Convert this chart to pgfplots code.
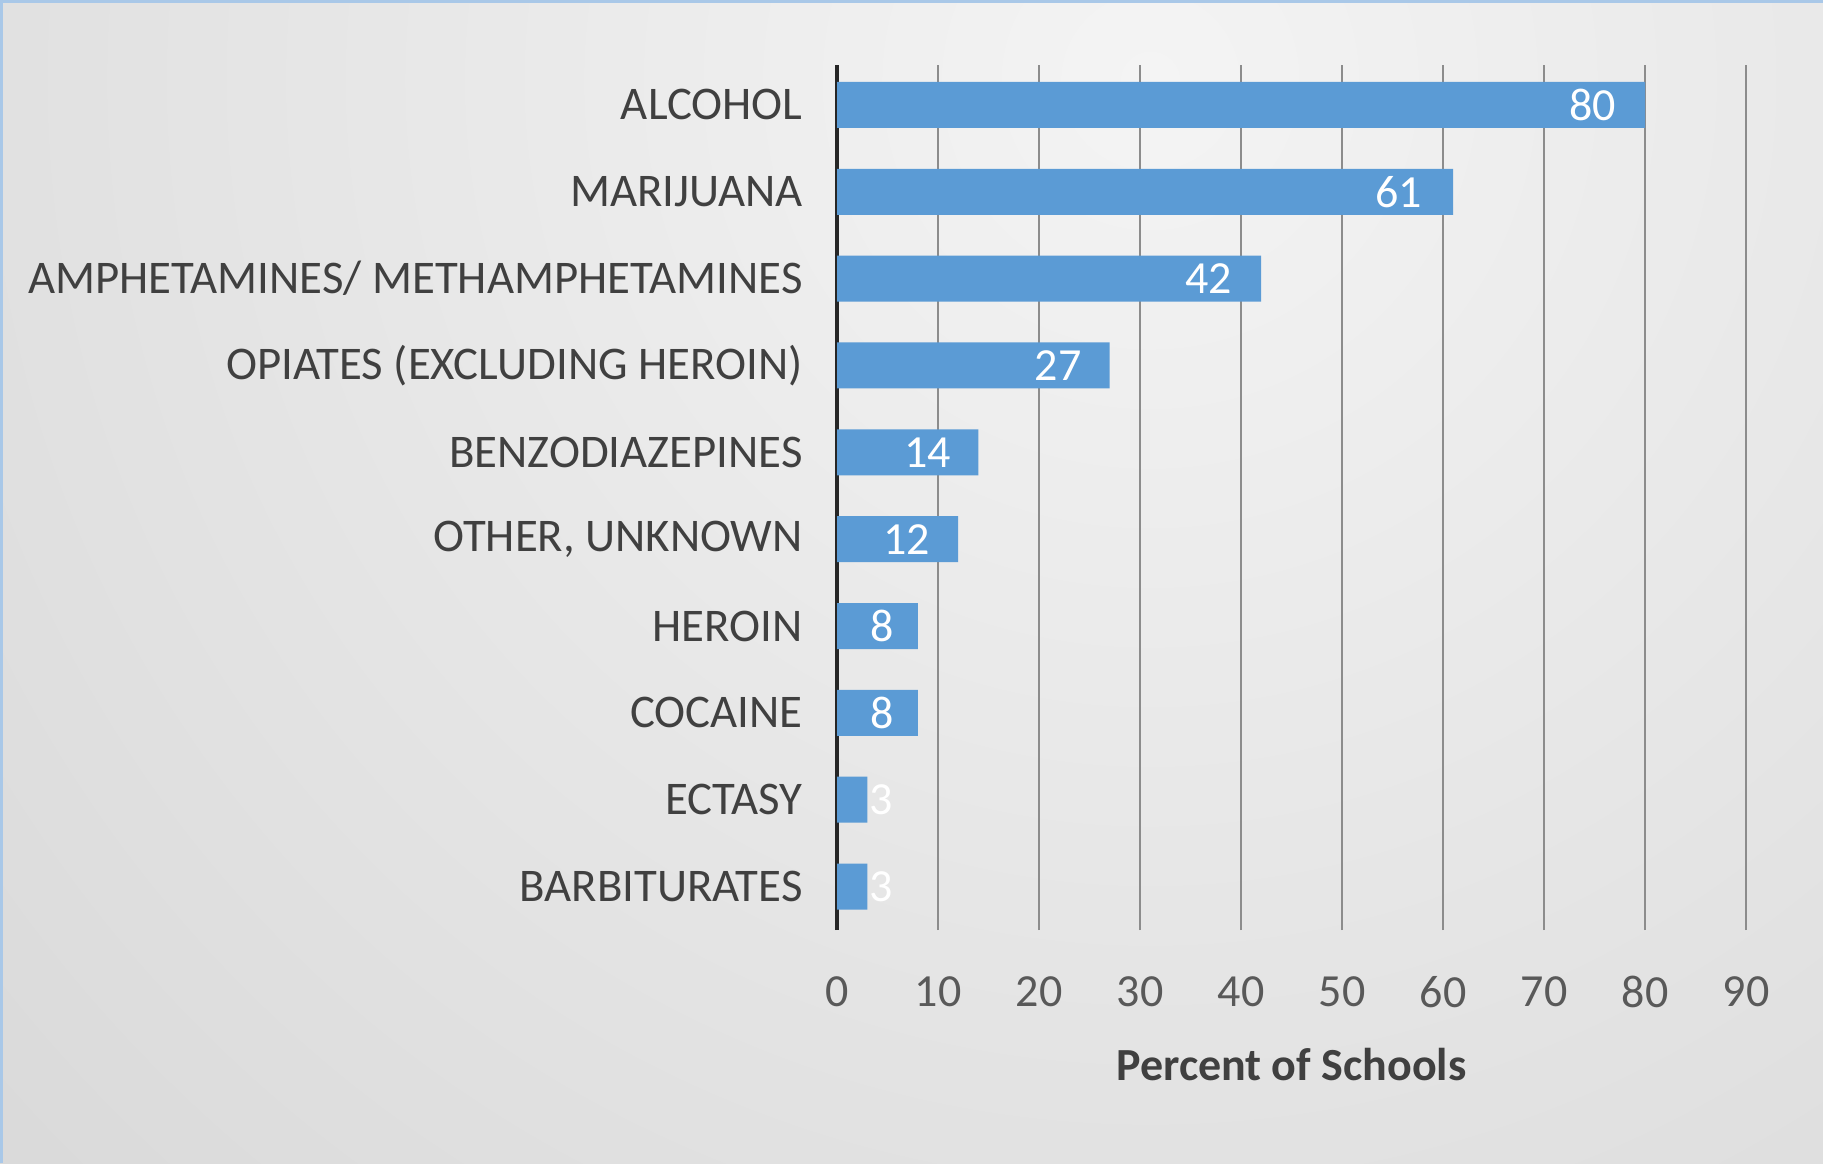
\documentclass[border=0pt]{standalone}
\usepackage{fontspec}
\setmainfont{Carlito}
\usepackage{pgfplots}
\usepackage{pgfplotstable}
\pgfplotsset{compat=1.18}
\definecolor{barblue}{HTML}{5B9BD5}
\definecolor{bglight}{HTML}{F4F4F4}
\definecolor{bgdark}{HTML}{C0C0C0}
\definecolor{borderblue}{HTML}{A9C8E8}
\definecolor{labgray}{HTML}{404040}
\definecolor{tickgray}{HTML}{595959}
\definecolor{gridgray}{HTML}{8C8C8C}
\definecolor{axisdark}{HTML}{262626}

\pgfplotstableread{
y val
9 80
8 61
7 42
6 27
5 14
4 12
3 8
2 8
1 3
0 3
}\bardata

\pgfplotstableread{
y pos lab
9 74.8 80
8 55.6 61
7 36.8 42
6 21.9 27
5 9.0 14
4 6.9 12
3 4.5 8
2 4.5 8
1 4.4 3
0 4.4 3
}\labdata

\begin{document}
\begin{tikzpicture}
\useasboundingbox (0,0) rectangle (911.5pt,581.5pt);
\begin{scope}
\clip (0,0) rectangle (911.5pt,581.5pt);
\fill[bgdark] (0,0) rectangle (911.5pt,581.5pt);
\shade[inner color=bglight, outer color=bgdark] (575pt,541pt) circle (1550pt);
\end{scope}
\draw[borderblue, line width=1.5pt] (0.75pt,0) -- (0.75pt,580.75pt) -- (911.5pt,580.75pt);

\begin{axis}[
  at={(418.5pt,116.5pt)}, anchor=south west,
  scale only axis, width=454.5pt, height=432.5pt,
  xmin=0, xmax=90, ymin=-0.5, ymax=9.46,
  ytick={0,...,9},
  yticklabels={BARBITURATES,ECTASY,COCAINE,HEROIN,{OTHER, UNKNOWN},BENZODIAZEPINES,{OPIATES (EXCLUDING HEROIN)},{AMPHETAMINES/ METHAMPHETAMINES},MARIJUANA,ALCOHOL},
  xtick={0,10,...,90},
  xmajorgrids,
  grid style={gridgray, line width=1pt},
  axis lines*=left,
  x axis line style={draw=none},
  y axis line style={line width=2.4pt, color=axisdark},
  major tick length=0pt,
  /pgf/number format/assume math mode=true,
  tick label style={font=\fontsize{23}{27}\selectfont},
  yticklabel style={color=labgray, inner sep=0pt, xshift=-17pt, font=\fontsize{23.4}{27}\selectfont},
  xticklabel style={color=tickgray, inner sep=0pt, yshift=-23pt},
  xlabel={Percent of Schools},
  xlabel style={font=\fontsize{23}{27}\selectfont\bfseries, color=labgray, inner sep=0pt, yshift=-20pt},
  clip=false,
]
\addplot[xbar, bar width=23pt, fill=barblue, draw=none, bar shift=0pt] table[x=val, y=y] {\bardata};
\addplot[only marks, mark=none, nodes near coords, point meta=explicit symbolic,
  every node near coord/.style={anchor=center, color=white, font=\fontsize{23}{27}\selectfont, inner sep=0pt}]
  table[x=pos, y=y, meta=lab] {\labdata};
\end{axis}
\end{tikzpicture}
\end{document}
